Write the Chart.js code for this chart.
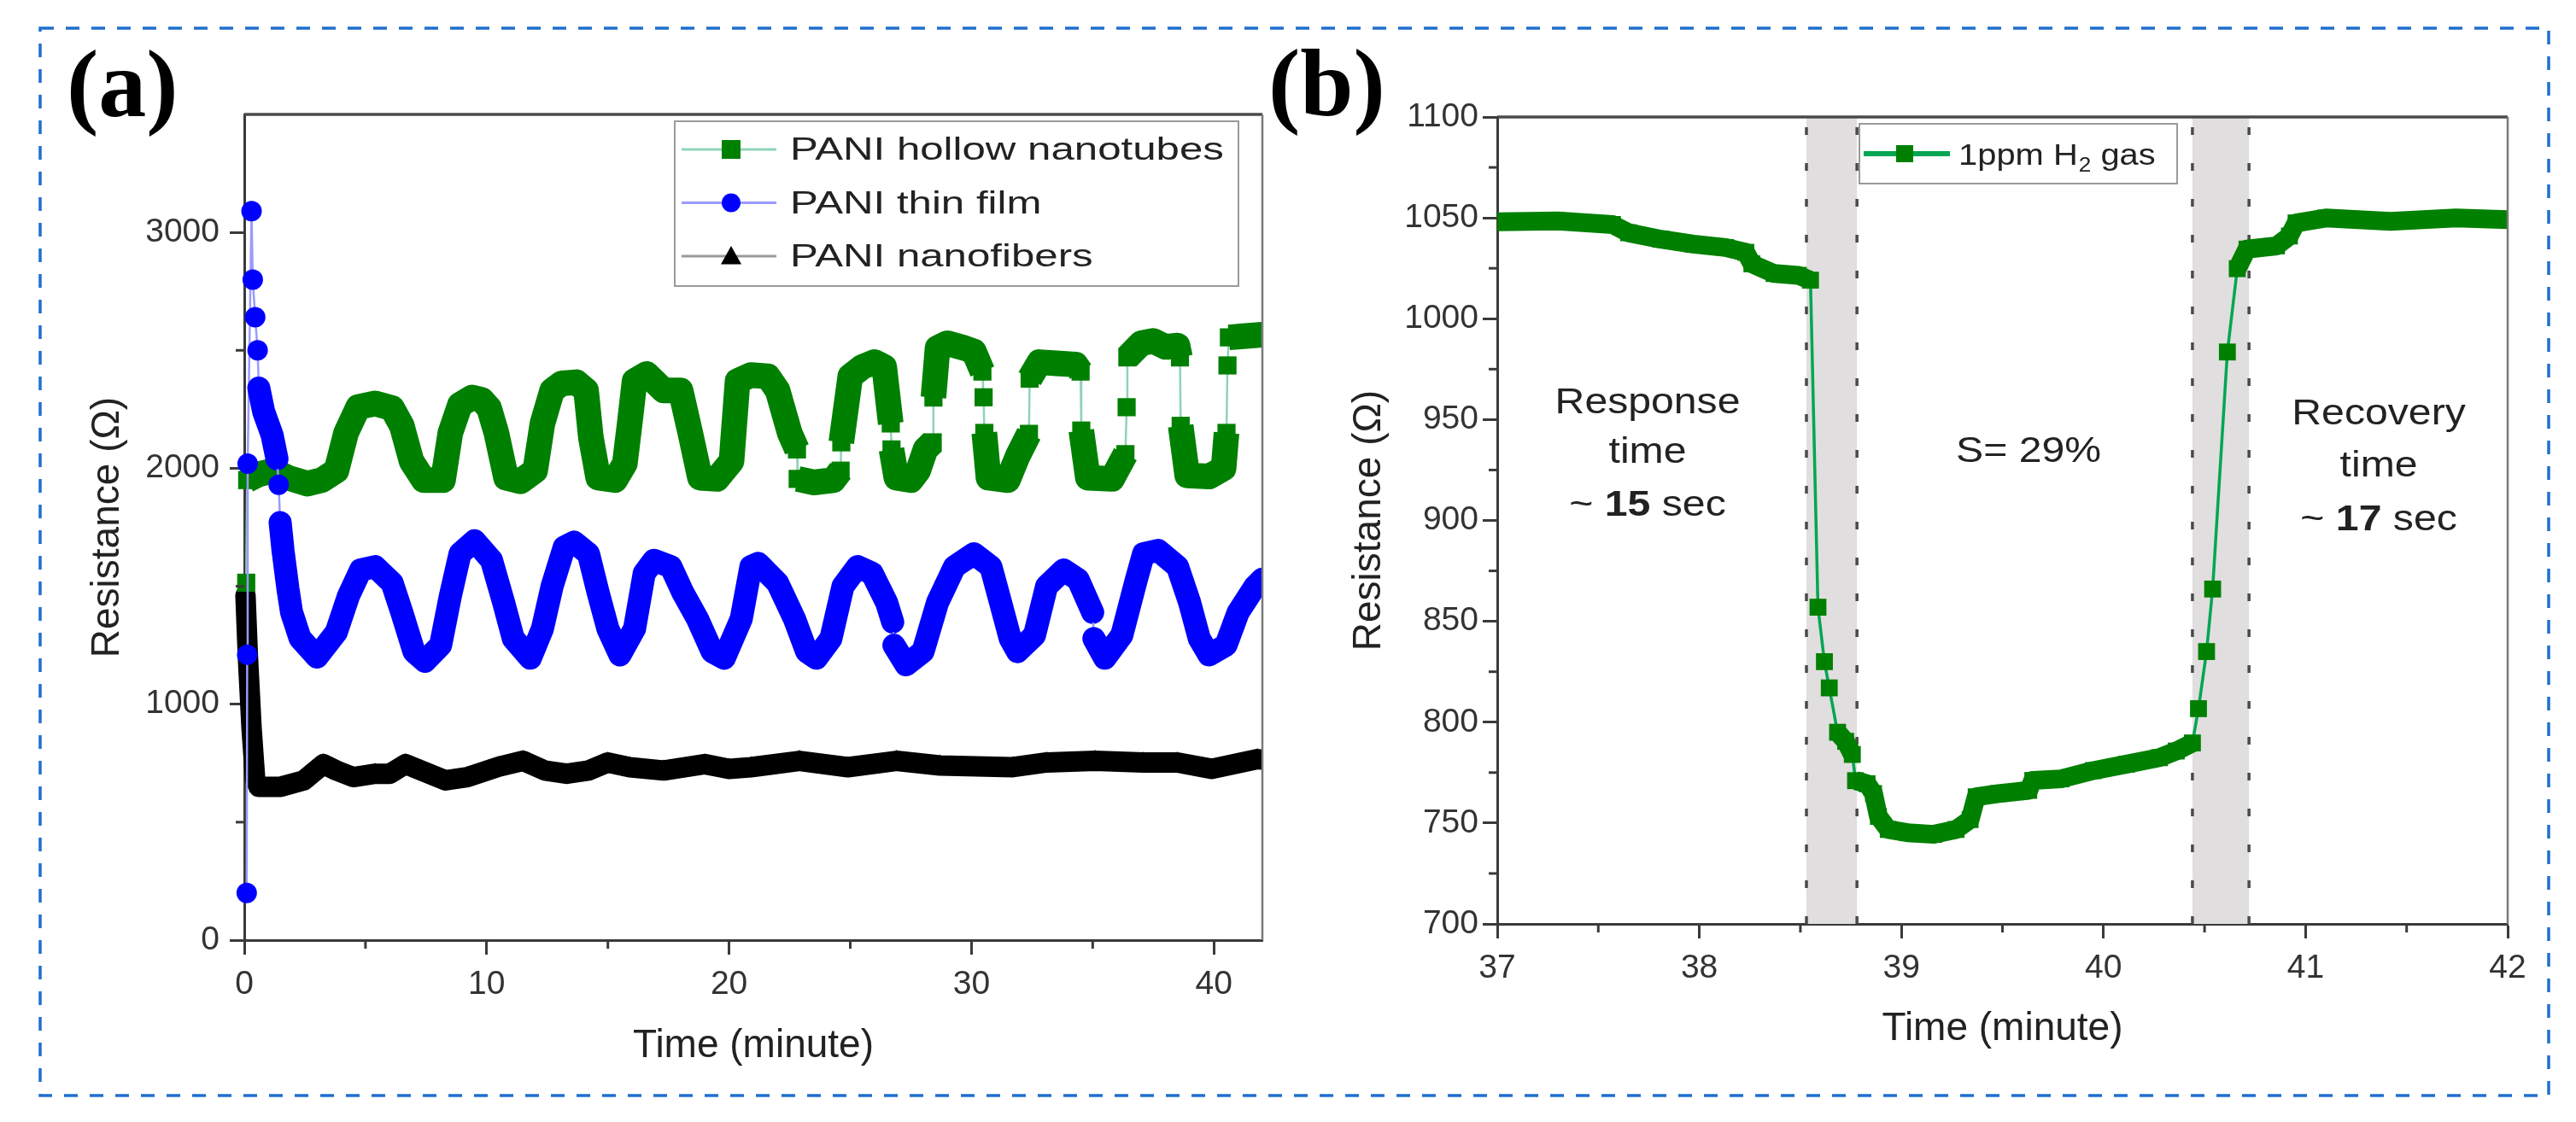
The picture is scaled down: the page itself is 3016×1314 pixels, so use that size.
<!DOCTYPE html>
<html>
<head>
<meta charset="utf-8">
<script src="https://cdn.jsdelivr.net/npm/chart.js@4.4.1/dist/chart.umd.min.js"></script>
<style>
  html, body { margin: 0; padding: 0; background: #fff; overflow: hidden; }
  #page { position: relative; width: 3016px; height: 1314px; }
  canvas { position: absolute; top: 0; }
  #chartA { left: 0; }
  #chartB { left: 1470px; }
  svg { position: absolute; left: 0; top: 0; }
</style>
</head>
<body>
<div id="page">
  <canvas id="chartA" width="1500" height="1314"></canvas>
  <canvas id="chartB" width="1546" height="1314"></canvas>
  <svg width="3016" height="1314">
    <rect x="47" y="33" width="2937" height="1250" fill="none" stroke="#1f6fce" stroke-width="3.5" stroke-dasharray="16 14"/>
  </svg>
</div>
<script>
// panel (a): resistance vs time, three PANI morphologies
const tubeTime = [0.08, 0.12, 0.6, 1.2, 1.8, 2.6, 3.2, 3.8, 4.2, 4.7, 5.4, 6.1, 6.5, 6.9, 7.4, 8.2, 8.5, 8.9, 9.4, 9.8,
  10.1, 10.4, 10.8, 11.4, 12.0, 12.3, 12.7, 13.1, 13.7, 14.1, 14.3, 14.6, 15.3, 15.7, 15.9, 16.1, 16.6, 17.3, 18.0, 18.4,
  18.8, 19.5, 20.1, 20.35, 20.9, 21.6, 22.0, 22.5, 22.8, 22.83, 23.5, 24.3, 24.6, 24.63, 25.0, 25.5, 26.0, 26.4, 26.67, 26.7,
  26.9, 27.5, 27.8, 28.1, 28.4, 28.43, 28.6, 29.0, 29.7, 30.1, 30.45, 30.5, 30.53, 30.7, 31.5, 31.9, 32.37, 32.4, 32.8, 33.5,
  34.3, 34.5, 34.53, 34.8, 35.8, 36.35, 36.4, 36.43, 37.0, 37.5, 38.0, 38.5, 38.6, 38.63, 38.9, 39.8, 40.4, 40.52, 40.56, 40.62,
  41.2, 42.0];
const tubeRes = [1515, 1950, 1975, 1990, 1960, 1935, 1950, 1990, 2150, 2260, 2275, 2255, 2180, 2030, 1950, 1950, 2150, 2270, 2300, 2290,
  2255, 2150, 1960, 1945, 1990, 2190, 2330, 2360, 2365, 2330, 2130, 1960, 1950, 2020, 2190, 2370, 2400, 2330, 2330, 2150,
  1960, 1955, 2030, 2370, 2395, 2390, 2330, 2150, 2080, 1955, 1940, 1950, 1990, 2110, 2390, 2430, 2450, 2430, 2190, 2080,
  1960, 1950, 1990, 2080, 2110, 2300, 2510, 2530, 2510, 2495, 2410, 2301, 2150, 1960, 1950, 2050, 2146, 2380, 2450, 2445,
  2440, 2410, 2160, 1960, 1955, 2060, 2259, 2470, 2530, 2540, 2515, 2520, 2470, 2180, 1970, 1965, 2000, 2150, 2436, 2555,
  2560, 2566];

const filmTime = [0.1, 0.12, 0.14, 0.3, 0.35, 0.45, 0.55, 0.6, 0.8, 1.15, 1.35, 1.42, 1.48, 1.6, 1.8, 1.95, 2.3, 3.0, 3.8, 4.3,
  4.8, 5.4, 6.1, 6.5, 7.0, 7.45, 8.1, 8.5, 8.9, 9.5, 10.2, 10.7, 11.1, 11.8, 12.3, 12.7, 13.2, 13.6, 14.2, 14.6,
  15.0, 15.5, 16.1, 16.5, 16.9, 17.6, 18.1, 18.7, 19.3, 19.8, 20.5, 20.9, 21.2, 22.0, 22.7, 23.2, 23.6, 24.2, 24.7, 25.3,
  25.9, 26.5, 26.75, 26.8, 27.3, 28.0, 28.6, 29.3, 30.1, 30.8, 31.2, 31.6, 31.9, 32.6, 33.1, 33.8, 34.4, 35.0, 35.05, 35.5,
  36.2, 36.8, 37.1, 37.7, 38.5, 39.0, 39.4, 39.8, 40.5, 41.0, 41.7, 42.0];
const filmRes = [200, 1210, 2020, 3090, 2800, 2640, 2500, 2340, 2240, 2140, 2040, 1930, 1770, 1650, 1490, 1390, 1280, 1200, 1306, 1459,
  1569, 1583, 1514, 1389, 1223, 1182, 1250, 1458, 1638, 1693, 1610, 1431, 1278, 1195, 1320, 1500, 1666, 1687, 1638, 1472,
  1320, 1209, 1320, 1555, 1610, 1583, 1472, 1361, 1223, 1195, 1361, 1583, 1597, 1514, 1361, 1223, 1195, 1278, 1500, 1583,
  1555, 1431, 1348, 1250, 1167, 1223, 1431, 1583, 1638, 1583, 1431, 1278, 1223, 1292, 1500, 1569, 1528, 1389, 1278, 1195,
  1292, 1528, 1638, 1652, 1583, 1431, 1278, 1209, 1250, 1389, 1500, 1530];

const fiberTime = [0.05, 0.15, 0.3, 0.45, 0.6, 1.5, 2.45, 3.26, 3.8, 4.5, 5.4, 6.0, 6.65, 7.3, 8.3, 9.2, 10.5, 11.5, 12.4, 13.3,
  14.2, 15.0, 15.9, 17.3, 19.0, 20.0, 20.9, 22.9, 24.9, 26.9, 28.7, 31.7, 33.1, 35.1, 37.1, 38.5, 39.9, 41.8, 42.0];
const fiberRes = [1460, 1200, 900, 680, 650, 650, 677, 746, 719, 691, 705, 705, 746, 719, 677, 691, 735, 760, 719, 705,
  719, 753, 733, 719, 746, 726, 733, 760, 733, 760, 740, 733, 753, 760, 753, 753, 726, 767, 765];

const timeTicksA = [0, 10, 20, 30, 40];
const timeMinorA = [5, 15, 25, 35];
const resTicksA = [0, 1000, 2000, 3000];
const resMinorA = [500, 1500, 2500];

// panel (b): one response/recovery cycle at 1 ppm H2
const h2Time = [37.0, 37.3, 37.57, 37.65, 37.81, 37.97, 38.13, 38.23, 38.26, 38.37, 38.49, 38.55,
  38.587, 38.619, 38.643, 38.684, 38.724, 38.757, 38.773, 38.83, 38.862, 38.886, 38.935, 39.03, 39.16, 39.27, 39.34, 39.37,
  39.48, 39.63, 39.65, 39.79, 39.95, 40.115, 40.277, 40.36, 40.44,
  40.47, 40.51, 40.54, 40.613, 40.662, 40.71, 40.856, 40.92, 40.953, 41.1, 41.26, 41.42, 41.58, 41.745, 42.0];
const h2Res = [1048, 1048.5, 1046.7, 1042.6, 1039.4, 1037, 1035.3, 1032.9, 1027.2, 1022.4, 1021.5, 1019.1,
  857, 830, 817, 795, 790.5, 784, 771, 769.5, 764.6, 753.3, 746.8, 745.2, 744.4, 746.8, 751.7, 763,
  764.6, 766.2, 771.1, 771.9, 776, 779.2, 782.4, 785.7, 789.7,
  806.7, 835, 866, 983.5, 1024.8, 1034.5, 1036.1, 1041, 1047.5, 1049.9, 1049.1, 1048.3, 1049.1, 1049.9, 1049.1];

const timeTicksB = [37, 38, 39, 40, 41, 42];
const timeMinorB = [37.5, 38.5, 39.5, 40.5, 41.5];
const resTicksB = [700, 750, 800, 850, 900, 950, 1000, 1050, 1100];
const resMinorB = [725, 775, 825, 875, 925, 975, 1025, 1075];

const responseWindow = [38.53, 38.78];
const recoveryWindow = [40.44, 40.72];

const FONT = '"Liberation Sans", Arial, sans-serif';
Chart.defaults.font.family = FONT;
Chart.defaults.color = '#333';

const xy = (ts, rs) => ts.map((t, i) => ({ x: t, y: rs[i] }));

// sparse steps (big jump in a short time) are drawn thin, dense runs as a thick band
function segmentStyle(limit, wide, thin, wideColor, thinColor) {
  const jump = c => {
    const dt = Math.abs(c.p1.parsed.x - c.p0.parsed.x);
    const dr = Math.abs(c.p1.parsed.y - c.p0.parsed.y);
    return dr / Math.max(dt, 1e-6) > limit;
  };
  return {
    borderWidth: c => jump(c) ? thin : wide,
    borderColor: c => jump(c) ? thinColor : wideColor
  };
}

function axisOpts(min, max, ticks, fitSize, horizontal, title, titlePad, labelPad) {
  return {
    type: 'linear', min: min, max: max,
    afterBuildTicks: s => { s.ticks = ticks.map(v => ({ value: v })); },
    afterFit: s => { if (horizontal) s.height = fitSize; else s.width = fitSize; },
    ticks: { font: { size: 39 }, color: '#333', padding: labelPad, autoSkip: false, maxRotation: 0, callback: v => String(v) },
    grid: { drawOnChartArea: false, tickLength: 17, tickWidth: 3, tickColor: '#3a3a3a' },
    border: { color: '#3a3a3a', width: 3 },
    title: { display: true, text: title, font: { size: 46 }, color: '#222', padding: titlePad }
  };
}

function stretchText(ctx, text, x, y, stretch) {
  ctx.save();
  ctx.translate(x, y);
  ctx.scale(stretch, 1);
  ctx.fillText(text, 0, 0);
  ctx.restore();
  return ctx.measureText(text).width * stretch;
}

function richLine(ctx, parts, cx, y, size, stretch) {
  const fonts = parts.map(p => (p.bold ? 'bold ' : '') + size + 'px ' + FONT);
  const widths = parts.map((p, i) => { ctx.font = fonts[i]; return ctx.measureText(p.text).width * stretch; });
  let x = cx - widths.reduce((a, b) => a + b, 0) / 2;
  parts.forEach((p, i) => { ctx.font = fonts[i]; stretchText(ctx, p.text, x, y, stretch); x += widths[i]; });
}

function drawMarker(ctx, style, x, y, r, color) {
  ctx.fillStyle = color;
  ctx.beginPath();
  if (style === 'rect') ctx.rect(x - r, y - r, 2 * r, 2 * r);
  else if (style === 'circle') ctx.arc(x, y, r, 0, Math.PI * 2);
  else { ctx.moveTo(x, y - r); ctx.lineTo(x + r, y + r * 0.8); ctx.lineTo(x - r, y + r * 0.8); ctx.closePath(); }
  ctx.fill();
}

function frameAndMinor(chart, minorX, minorY) {
  const { ctx, chartArea: a, scales } = chart;
  ctx.save();
  ctx.strokeStyle = '#4a4a4a';
  ctx.lineWidth = 3.5;
  ctx.beginPath(); ctx.moveTo(a.left, a.top); ctx.lineTo(a.right, a.top); ctx.stroke();
  ctx.strokeStyle = '#7a7a7a';
  ctx.lineWidth = 2.5;
  ctx.beginPath(); ctx.moveTo(a.right, a.top); ctx.lineTo(a.right, a.bottom); ctx.stroke();
  ctx.strokeStyle = '#3a3a3a';
  ctx.lineWidth = 3;
  minorX.forEach(v => {
    const px = scales.x.getPixelForValue(v);
    ctx.beginPath(); ctx.moveTo(px, a.bottom); ctx.lineTo(px, a.bottom + 10); ctx.stroke();
  });
  minorY.forEach(v => {
    const py = scales.y.getPixelForValue(v);
    ctx.beginPath(); ctx.moveTo(a.left - 10, py); ctx.lineTo(a.left, py); ctx.stroke();
  });
  ctx.restore();
}

function panelLabel(ctx, text, x, y) {
  ctx.save();
  ctx.fillStyle = '#000';
  ctx.font = 'bold 112px "Liberation Serif", "Times New Roman", serif';
  ctx.textBaseline = 'alphabetic';
  ctx.fillText(text, x, y);
  ctx.restore();
}

const panelA = {
  id: 'panelA',
  afterDatasetsDraw(chart) { frameAndMinor(chart, timeMinorA, resMinorA); },
  afterDraw(chart) {
    const { ctx, chartArea: a } = chart;
    panelLabel(ctx, '(a)', 78, 136);
    const bx = a.left + 504, by = a.top + 8;
    ctx.save();
    ctx.fillStyle = '#fff';
    ctx.fillRect(bx, by, 660, 193);
    ctx.strokeStyle = '#9a9a9a';
    ctx.lineWidth = 2;
    ctx.strokeRect(bx, by, 660, 193);
    const rows = [
      { text: 'PANI hollow nanotubes', line: '#8fd3b5', style: 'rect', r: 11, color: '#008000' },
      { text: 'PANI thin film', line: '#9a9aff', style: 'circle', r: 11, color: '#0000ff' },
      { text: 'PANI nanofibers', line: '#9a9a9a', style: 'tri', r: 12, color: '#000' }
    ];
    rows.forEach((row, i) => {
      const y = by + 33 + i * 62.5;
      ctx.strokeStyle = row.line;
      ctx.lineWidth = 3;
      ctx.beginPath(); ctx.moveTo(bx + 8, y); ctx.lineTo(bx + 119, y); ctx.stroke();
      drawMarker(ctx, row.style, bx + 66, y, row.r, row.color);
      ctx.fillStyle = '#222';
      ctx.font = '37px ' + FONT;
      ctx.textBaseline = 'middle';
      stretchText(ctx, row.text, bx + 135, y + 2, 1.33);
    });
    ctx.restore();
  }
};

const panelB = {
  id: 'panelB',
  beforeDatasetsDraw(chart) {
    const { ctx, chartArea: a, scales: { x } } = chart;
    ctx.save();
    [responseWindow, recoveryWindow].forEach(w => {
      const x0 = x.getPixelForValue(w[0]), x1 = x.getPixelForValue(w[1]);
      ctx.fillStyle = '#e1dedf';
      ctx.fillRect(x0, a.top, x1 - x0, a.bottom - a.top);
      ctx.strokeStyle = '#4a4a4a';
      ctx.lineWidth = 3.5;
      ctx.setLineDash([9, 33]);
      [x0, x1].forEach(px => {
        ctx.beginPath(); ctx.moveTo(px, a.top + 12); ctx.lineTo(px, a.bottom); ctx.stroke();
      });
    });
    ctx.restore();
  },
  afterDatasetsDraw(chart) { frameAndMinor(chart, timeMinorB, resMinorB); },
  afterDraw(chart) {
    const { ctx, chartArea: a, scales: { x, y } } = chart;
    panelLabel(ctx, '(b)', 15, 135);
    // legend
    const bx = a.left + 424, by = a.top + 8;
    ctx.save();
    ctx.fillStyle = '#fff';
    ctx.fillRect(bx, by, 372, 70);
    ctx.strokeStyle = '#9a9a9a';
    ctx.lineWidth = 2;
    ctx.strokeRect(bx, by, 372, 70);
    const ly = by + 35;
    ctx.strokeStyle = '#00a651';
    ctx.lineWidth = 6;
    ctx.beginPath(); ctx.moveTo(bx + 5, ly); ctx.lineTo(bx + 106, ly); ctx.stroke();
    drawMarker(ctx, 'rect', bx + 53, ly, 10, '#008000');
    ctx.fillStyle = '#222';
    ctx.textBaseline = 'alphabetic';
    ctx.font = '35px ' + FONT;
    let tx = bx + 116;
    tx += stretchText(ctx, '1ppm H', tx, ly + 13, 1.14);
    ctx.font = '23px ' + FONT;
    tx += stretchText(ctx, '2', tx + 1, ly + 21, 1.14) + 1;
    ctx.font = '35px ' + FONT;
    stretchText(ctx, ' gas', tx, ly + 13, 1.14);
    // annotations
    ctx.fillStyle = '#222';
    const line = (parts, t, r) => richLine(ctx, parts, x.getPixelForValue(t), y.getPixelForValue(r), 43, 1.12);
    line([{ text: 'Response' }], 37.744, 953);
    line([{ text: 'time' }], 37.744, 928.4);
    line([{ text: '~ ' }, { text: '15', bold: true }, { text: ' sec' }], 37.744, 902.5);
    line([{ text: 'S= 29%' }], 39.629, 929);
    line([{ text: 'Recovery' }], 41.362, 947.8);
    line([{ text: 'time' }], 41.362, 921.9);
    line([{ text: '~ ' }, { text: '17', bold: true }, { text: ' sec' }], 41.362, 895.2);
    ctx.restore();
  }
};

new Chart(document.getElementById('chartA').getContext('2d'), {
  type: 'line',
  data: {
    datasets: [
      {
        label: 'PANI hollow nanotubes',
        data: xy(tubeTime, tubeRes),
        borderColor: '#008000',
        pointStyle: 'rect', pointRadius: 15, pointBorderWidth: 0, pointBackgroundColor: '#008000',
        borderJoinStyle: 'round', borderCapStyle: 'butt',
        segment: segmentStyle(1500, 30, 2.5, '#008000', '#8fd3b5'),
        clip: { left: 20, top: 20, right: 0, bottom: 0 },
        order: 2
      },
      {
        label: 'PANI thin film',
        data: xy(filmTime, filmRes),
        borderColor: '#0000ff',
        pointStyle: 'circle', pointRadius: 12, pointBorderWidth: 0, pointBackgroundColor: '#0000ff',
        borderJoinStyle: 'round', borderCapStyle: 'round',
        segment: segmentStyle(1200, 27, 2.5, '#0000ff', '#9a9aff'),
        clip: { left: 20, top: 20, right: 0, bottom: 0 },
        order: 1
      },
      {
        label: 'PANI nanofibers',
        data: xy(fiberTime, fiberRes),
        borderColor: '#000',
        pointStyle: 'triangle', pointRadius: 13, pointBorderWidth: 0, pointBackgroundColor: '#000',
        borderJoinStyle: 'round', borderCapStyle: 'round',
        segment: segmentStyle(Infinity, 24, 2, '#000', '#9a9a9a'),
        clip: { left: 20, top: 20, right: 0, bottom: 0 },
        order: 3
      }
    ]
  },
  options: {
    responsive: false,
    animation: false,
    devicePixelRatio: 1,
    layout: { padding: { top: 134, right: 22, left: 0, bottom: 0 } },
    plugins: { legend: { display: false }, tooltip: { enabled: false } },
    scales: {
      x: axisOpts(0, 42, timeTicksA, 213, true, 'Time (minute)', { top: 0, bottom: 61 }, 12),
      y: axisOpts(0, 3500, resTicksA, 286, false, 'Resistance (Ω)', { top: 99, bottom: 0 }, 12)
    }
  },
  plugins: [panelA]
});

new Chart(document.getElementById('chartB').getContext('2d'), {
  type: 'line',
  data: {
    datasets: [{
      label: '1ppm H2 gas',
      data: xy(h2Time, h2Res),
      borderColor: '#008000',
      pointStyle: 'rect', pointRadius: 14, pointBorderWidth: 0, pointBackgroundColor: '#008000',
      borderJoinStyle: 'round', borderCapStyle: 'butt',
      segment: segmentStyle(500, 22, 3.5, '#008000', '#00a651'),
      clip: { left: 0, top: 10, right: 0, bottom: 10 }
    }]
  },
  options: {
    responsive: false,
    animation: false,
    devicePixelRatio: 1,
    layout: { padding: { top: 137, right: 80, left: 0, bottom: 0 } },
    plugins: { legend: { display: false }, tooltip: { enabled: false } },
    scales: {
      x: axisOpts(37, 42, timeTicksB, 232, true, 'Time (minute)', { top: 0, bottom: 81 }, 12),
      y: axisOpts(700, 1100, resTicksB, 283, false, 'Resistance (Ω)', { top: 106, bottom: 0 }, 5)
    }
  },
  plugins: [panelB]
});
</script>
</body>
</html>
